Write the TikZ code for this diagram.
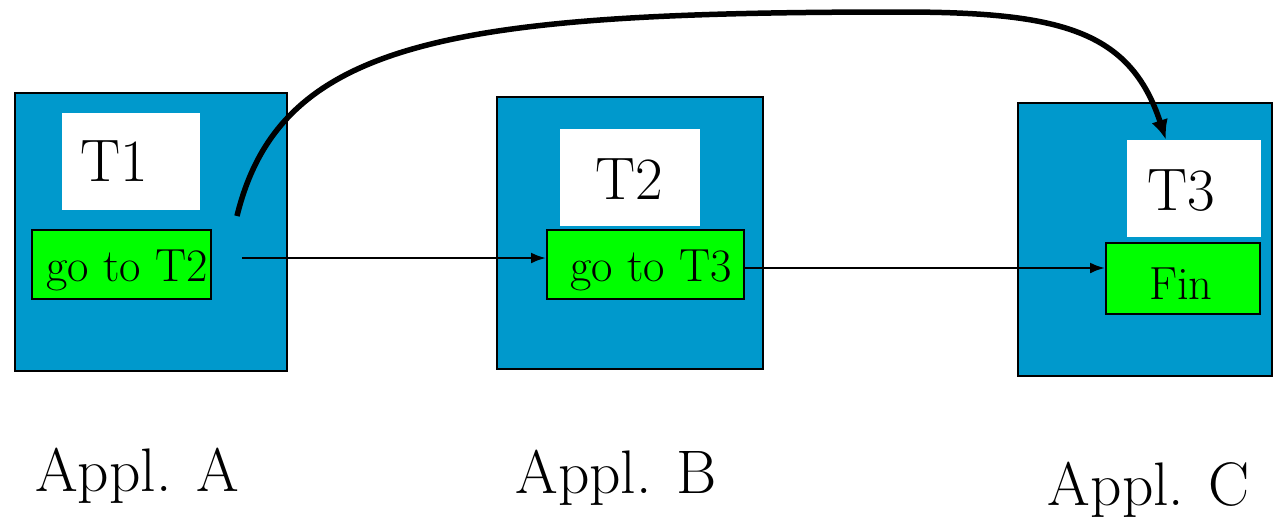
\documentclass[tikz,border=0pt]{standalone}
\usetikzlibrary{arrows.meta}
\definecolor{applblue}{RGB}{0,153,204}
\definecolor{tgreen}{RGB}{0,255,0}
\tikzset{
  applbox/.style={draw=black, line width=2pt, fill=applblue, inner sep=0pt},
  whitebox/.style={fill=white, draw=none, inner sep=0pt},
  greenbox/.style={draw=black, line width=2pt, fill=tgreen, inner sep=0pt},
  tlabel/.style={inner sep=0pt, font=\rmfamily\fontsize{60}{62}\selectfont},
  glabel/.style={inner sep=0pt, font=\rmfamily\fontsize{46.5}{48}\selectfont},
  alabel/.style={inner sep=0pt, font=\rmfamily\fontsize{61.5}{64}\selectfont},
  thinarrow/.style={line width=2.5pt, -{Latex[length=15pt,width=11pt]}},
  thickarrow/.style={line width=5.5pt, -{Latex[length=20pt,width=17pt]}},
}
\begin{document}
\begin{tikzpicture}[x=1pt,y=-1pt]
\useasboundingbox (0,0) rectangle (1274,523);
% application boxes
\node[applbox, minimum width=272pt, minimum height=278pt] (A) at (151,232) {};
\node[applbox, minimum width=266pt, minimum height=272pt] (B) at (630,233) {};
\node[applbox, minimum width=254pt, minimum height=273pt] (C) at (1145,239.5) {};
% white title boxes
\node[whitebox, minimum width=138pt, minimum height=97pt] (t1box) at (131,161.5) {};
\node[whitebox, minimum width=140pt, minimum height=97pt] (t2box) at (630,177) {};
\node[whitebox, minimum width=134pt, minimum height=97pt] (t3box) at (1194,188.5) {};
\node[tlabel] (t1) at (114,161) {T1};
\node[tlabel] (t2) at (629,179) {T2};
\node[tlabel] (t3) at (1181,191) {T3};
% green boxes
\node[greenbox, minimum width=179pt, minimum height=69pt] (gA) at (121.5,264.5) {};
\node[greenbox, minimum width=197pt, minimum height=69pt] (gB) at (645.5,264.5) {};
\node[greenbox, minimum width=154pt, minimum height=71pt] (gC) at (1183,278.5) {};
\node[glabel] (gAt) at (127,270) {go to T2};
\node[glabel] (gBt) at (651,270) {go to T3};
\node[glabel] (gCt) at (1181,284) {Fin};
% labels
\node[alabel] (la) at (137,476) {Appl. A};
\node[alabel] (lb) at (616,478) {Appl. B};
\node[alabel] (lc) at (1149,490) {Appl. C};
% connectors
\coordinate (s1) at (242,258);
\coordinate (s2) at (237,216);
\coordinate (mid) at (900,12);
\draw[thinarrow] (s1) -- ([yshift=6.5pt]gB.west);
\draw[thinarrow] ([yshift=-3.5pt]gB.east) -- ([yshift=10.5pt]gC.west);
\draw[thickarrow] (s2) .. controls (280,40) and (450,12) .. (mid)
  .. controls (1060,12) and (1130,30) .. ([xshift=-28pt]t3box.north);
\end{tikzpicture}
\end{document}
